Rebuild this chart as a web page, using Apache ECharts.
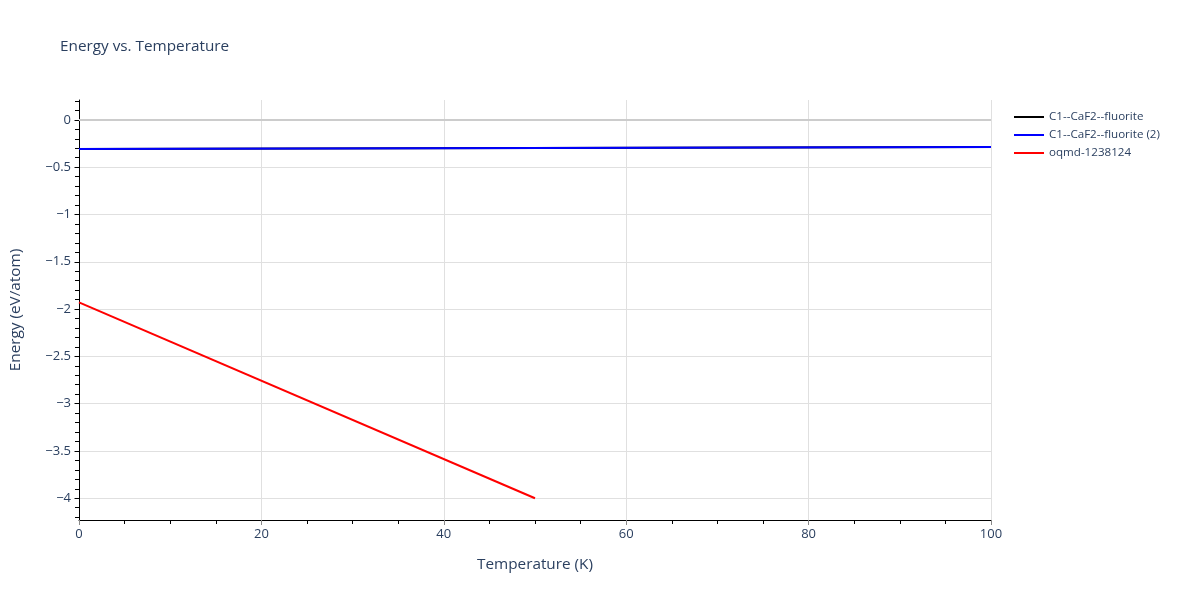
<!DOCTYPE html>
<html><head><meta charset="utf-8">
<script src="https://cdn.jsdelivr.net/npm/echarts@6/dist/echarts.min.js"></script>
<style>html,body{margin:0;padding:0;background:#fff}#c{width:1200px;height:600px}</style>
</head><body><div id="c"></div>
<script>
const seriesNames = ['C1--CaF2--fluorite', 'C1--CaF2--fluorite (2)', 'oqmd-1238124'];
const seriesColors = ['#000000', '#0000ff', '#ff0000'];
const tempBlack = [0, 100];
const energyBlack = [-0.307, -0.286];
const tempBlue = [0, 100];
const energyBlue = [-0.307, -0.286];
const tempRed = [0, 50];
const energyRed = [-1.93, -4.0];
const yMajorTicks = [-4, -3.5, -3, -2.5, -2, -1.5, -1, -0.5, 0];
const yMinorTicks = [];
for (let i = -42; i <= 2; i++) yMinorTicks.push(Math.round(i) / 10);
const yLabel = v => (v < 0 ? '\u2212' + String(-v) : String(v));

const font = '"Open Sans", Verdana, sans-serif';
const txt = '#2a3f5f';
const chart = echarts.init(document.getElementById('c'));
const pairs = (xs, ys) => xs.map((x, i) => [x, ys[i]]);
chart.setOption({
  animation: false,
  backgroundColor: '#fff',
  title: { text: 'Energy vs. Temperature', left: 55, top: 34,
    textStyle: { fontFamily: font, fontSize: 15.3, fontWeight: 'normal', color: txt } },
  legend: {
    orient: 'vertical', left: 1009, top: 106, itemGap: 6,
    itemWidth: 30, itemHeight: 2, icon: 'rect',
    textStyle: { fontFamily: font, fontSize: 11.6, color: txt },
    data: seriesNames
  },
  grid: { left: 79, right: 209, top: 100, bottom: 80, containLabel: false, outerBoundsMode: 'none' },
  xAxis: {
    type: 'value', min: 0, max: 100, interval: 20,
    name: 'Temperature (K)', nameLocation: 'middle', nameGap: 37,
    nameTextStyle: { fontFamily: font, fontSize: 15.3, color: txt },
    axisLine: { show: true, onZero: false, lineStyle: { color: '#000', width: 1 } },
    axisTick: { show: true, length: 5, lineStyle: { color: '#888' } },
    minorTick: { show: true, splitNumber: 4, length: 4, lineStyle: { color: '#000' } },
    axisLabel: { fontFamily: font, fontSize: 13, color: txt, margin: 8 },
    splitLine: { show: true, lineStyle: { color: '#e0e0e0', width: 1 } }
  },
  yAxis: [{
    type: 'value', min: -4.23, max: 0.21,
    name: 'Energy (eV/atom)', nameLocation: 'middle', nameGap: 56,
    nameTextStyle: { fontFamily: font, fontSize: 15.3, color: txt },
    axisLine: { show: true, onZero: false, lineStyle: { color: '#000', width: 1 } },
    axisTick: { show: true, length: 5, customValues: yMajorTicks, lineStyle: { color: '#888' } },
    axisLabel: { fontFamily: font, fontSize: 13, color: txt, margin: 8, customValues: yMajorTicks,
      formatter: yLabel },
    splitLine: { show: true, lineStyle: { color: '#e0e0e0', width: 1 } }
  }, {
    type: 'value', min: -4.23, max: 0.21, position: 'left', offset: 0,
    axisLine: { show: false },
    axisTick: { show: true, length: 4, customValues: yMinorTicks, lineStyle: { color: '#000' } },
    axisLabel: { show: false },
    splitLine: { show: false }
  }],
  series: [
    { name: seriesNames[0], type: 'line', data: pairs(tempBlack, energyBlack), showSymbol: false,
      lineStyle: { color: seriesColors[0], width: 2 }, itemStyle: { color: seriesColors[0] },
      markLine: { silent: true, symbol: 'none', label: { show: false },
        lineStyle: { color: '#cccccc', width: 2, type: 'solid' }, data: [{ yAxis: 0 }] } },
    { name: seriesNames[1], type: 'line', data: pairs(tempBlue, energyBlue), showSymbol: false,
      lineStyle: { color: seriesColors[1], width: 2 }, itemStyle: { color: seriesColors[1] } },
    { name: seriesNames[2], type: 'line', data: pairs(tempRed, energyRed), showSymbol: false,
      lineStyle: { color: seriesColors[2], width: 2 }, itemStyle: { color: seriesColors[2] } }
  ]
});
</script></body></html>
